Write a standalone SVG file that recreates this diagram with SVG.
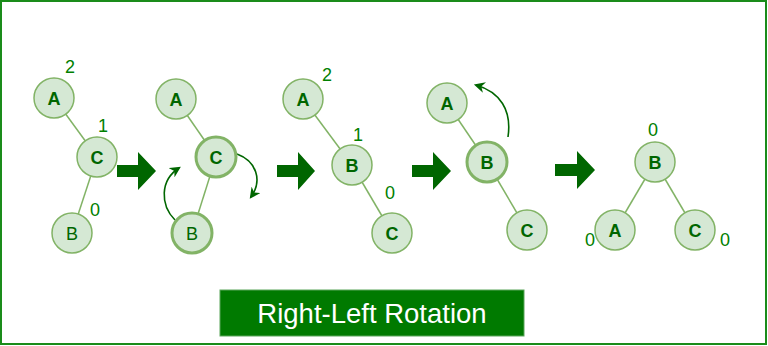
<svg xmlns="http://www.w3.org/2000/svg" width="768" height="346" viewBox="0 0 768 346">
<defs>
<style>
.n{fill:#d5e8d4;stroke:#82b366;stroke-width:1.5}
.t{fill:#d5e8d4;stroke:#82b366;stroke-width:3}
.l{font-family:"Liberation Sans",Arial,sans-serif;font-size:18px;font-weight:bold;fill:#006600;text-anchor:middle}
.r{font-weight:normal}
.b{font-family:"Liberation Sans",Arial,sans-serif;font-size:18px;fill:#008000;text-anchor:middle}
.e{stroke:#82b366;stroke-width:1.5;fill:none}
.c{stroke:#006600;stroke-width:1.6;fill:none}
.ba{fill:#006600}
</style>
<marker id="ah" viewBox="0 0 10 10" refX="8" refY="5" markerWidth="11" markerHeight="11" markerUnits="userSpaceOnUse" orient="auto">
<path d="M0,0 L10,5 L0,10 L3,5 Z" fill="#006600"/>
</marker>
</defs>
<rect x="1" y="1" width="765" height="343" fill="#ffffff" stroke="#1a8c1a" stroke-width="2"/>
<g id="connectors">
<line class="e" x1="54" y1="98" x2="97" y2="157"/>
<line class="e" x1="97" y1="157" x2="72" y2="233"/>
<line class="e" x1="176" y1="99" x2="216" y2="157"/>
<line class="e" x1="216" y1="157" x2="192" y2="233"/>
<line class="e" x1="303" y1="99" x2="352" y2="165"/>
<line class="e" x1="352" y1="165" x2="392" y2="233"/>
<line class="e" x1="447" y1="103" x2="487" y2="162"/>
<line class="e" x1="487" y1="162" x2="527" y2="230"/>
<line class="e" x1="655" y1="162" x2="615" y2="230"/>
<line class="e" x1="655" y1="162" x2="695" y2="230"/>
<path class="c" d="M175,220 C160,205 160,180 179,168" marker-end="url(#ah)"/>
<path class="c" d="M237,154 C256,161 263,180 251,197" marker-end="url(#ah)"/>
<path class="c" d="M508,137 C512,110 500,92 476,85" marker-end="url(#ah)"/>
<path class="ba" d="M117,165 h21 v-13 l18,19 l-18,19 v-13 h-21 Z"/>
<path class="ba" d="M277,165 h21 v-13 l17,19 l-17,19 v-13 h-21 Z"/>
<path class="ba" d="M412,165 h21 v-13 l18,19 l-18,19 v-13 h-21 Z"/>
<path class="ba" d="M555,164 h22 v-13 l18,19 l-18,19 v-13 h-22 Z"/>
</g>
<g id="t1A"><circle class="n" cx="54" cy="98" r="20"/><text class="l" x="54" y="104.5">A</text></g>
<g id="t1C"><circle class="n" cx="97" cy="157" r="20"/><text class="l" x="97" y="163.5">C</text></g>
<g id="t1B"><circle class="n" cx="72" cy="233" r="20"/><text class="l r" x="72" y="239.5">B</text></g>
<text class="b" x="70" y="73">2</text>
<text class="b" x="103" y="132">1</text>
<text class="b" x="95" y="216">0</text>
<g id="t2A"><circle class="n" cx="176" cy="99" r="20"/><text class="l" x="176" y="105.5">A</text></g>
<g id="t2C"><circle class="t" cx="216" cy="157" r="20"/><text class="l" x="216" y="163.5">C</text></g>
<g id="t2B"><circle class="t" cx="192" cy="233" r="20"/><text class="l r" x="192" y="239.5">B</text></g>
<g id="t3A"><circle class="n" cx="303" cy="99" r="20"/><text class="l" x="303" y="105.5">A</text></g>
<g id="t3B"><circle class="n" cx="352" cy="165" r="20"/><text class="l" x="352" y="171.5">B</text></g>
<g id="t3C"><circle class="n" cx="392" cy="233" r="20"/><text class="l" x="392" y="239.5">C</text></g>
<text class="b" x="327" y="81">2</text>
<text class="b" x="358" y="141">1</text>
<text class="b" x="390" y="199">0</text>
<g id="t4A"><circle class="n" cx="447" cy="103" r="20"/><text class="l" x="447" y="109.5">A</text></g>
<g id="t4B"><circle class="t" cx="487" cy="162" r="20"/><text class="l" x="487" y="168.5">B</text></g>
<g id="t4C"><circle class="n" cx="527" cy="230" r="20"/><text class="l" x="527" y="236.5">C</text></g>
<g id="t5B"><circle class="n" cx="655" cy="162" r="20"/><text class="l" x="655" y="168.5">B</text></g>
<g id="t5A"><circle class="n" cx="615" cy="230" r="20"/><text class="l" x="615" y="236.5">A</text></g>
<g id="t5C"><circle class="n" cx="695" cy="230" r="20"/><text class="l" x="695" y="236.5">C</text></g>
<text class="b" x="653" y="136">0</text>
<text class="b" x="590" y="246">0</text>
<text class="b" x="725" y="246">0</text>
<g id="title">
<rect x="220" y="290" width="304" height="46" fill="#007a00" stroke="#5aa55a" stroke-width="1"/>
<text x="372" y="323" font-family="'Liberation Sans',Arial,sans-serif" font-size="27.5" fill="#ffffff" text-anchor="middle">Right-Left Rotation</text>
</g>
</svg>
